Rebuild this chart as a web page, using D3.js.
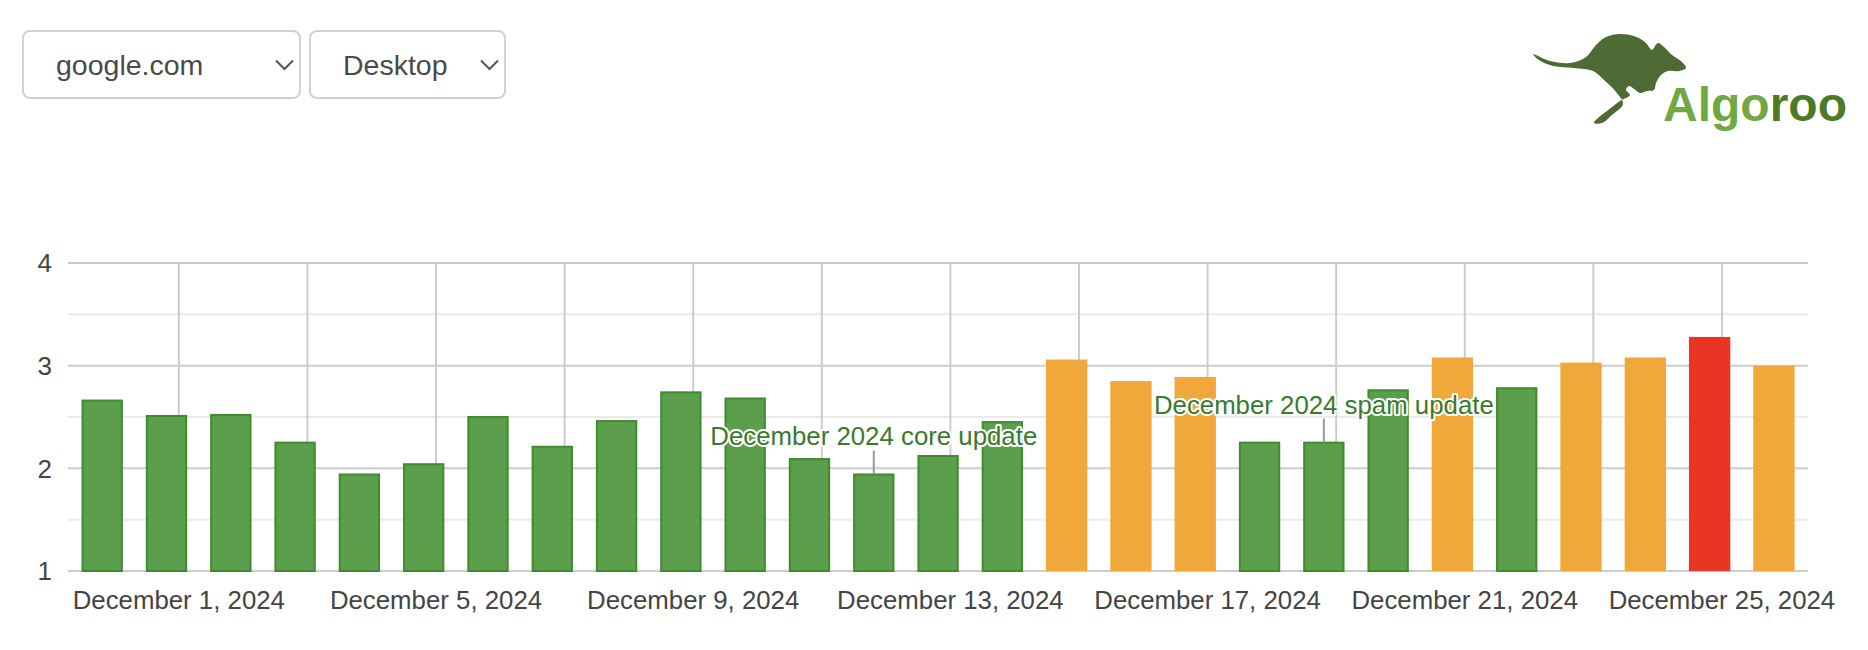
<!DOCTYPE html>
<html><head><meta charset="utf-8">
<script src="https://cdn.jsdelivr.net/npm/d3@7"></script>
<style>
html,body{margin:0;padding:0;background:#fff;}
svg{display:block;font-family:"Liberation Sans",Arial,Helvetica,sans-serif;}
</style></head><body>
<svg id="c" width="1868" height="650"></svg>
<script>
// ---- data ----
const dates = ["2024-11-30","2024-12-01","2024-12-02","2024-12-03","2024-12-04","2024-12-05","2024-12-06",
  "2024-12-07","2024-12-08","2024-12-09","2024-12-10","2024-12-11","2024-12-12","2024-12-13","2024-12-14",
  "2024-12-15","2024-12-16","2024-12-17","2024-12-18","2024-12-19","2024-12-20","2024-12-21","2024-12-22",
  "2024-12-23","2024-12-24","2024-12-25","2024-12-26"];
const values = [2.67,2.52,2.53,2.26,1.95,2.05,2.51,2.22,2.47,2.75,2.69,2.10,1.95,2.13,2.46,
  3.06,2.85,2.89,2.26,2.26,2.77,3.08,2.79,3.03,3.08,3.28,3.00];
const levels = ["low","low","low","low","low","low","low","low","low","low","low","low","low","low","low",
  "mid","mid","mid","low","low","low","mid","low","mid","mid","high","mid"];
const yTicks = [1,2,3,4];
const yMinorTicks = [1.5,2.5,3.5];
const annotationDates = ["2024-12-12","2024-12-19"];
const annotationTexts = ["December 2024 core update","December 2024 spam update"];
const selectLabels = ["google.com","Desktop"];

// ---- styles ----
const fillFor = {low:"#5b9e4c", mid:"#f0a83b", high:"#e93524"};
const strokeFor = {low:"#3f8b2d", mid:null, high:null};
const DAY = 864e5, shiftH = -4.6;
const parse = d3.timeParse("%Y-%m-%d");
const barT = s => new Date(+parse(s) + shiftH*3600e3);

const svg = d3.select("#c");
const pL = 68, pR = 1808, pT = 263, pB = 571;

const x = d3.scaleTime()
  .domain([new Date(+barT(dates[0]) - 0.532*DAY), new Date(+barT(dates[dates.length-1]) + 0.53*DAY)])
  .range([pL, pR]);
const y = d3.scaleLinear().domain([1,4]).range([pB, pT]);
const dayPx = x(new Date(+x.domain()[0] + DAY)) - pL;
const bw = dayPx * 0.643;

// minor horizontal gridlines
svg.append("g").selectAll("line").data(yMinorTicks).join("line")
  .attr("x1", pL).attr("x2", pR).attr("y1", d=>y(d)).attr("y2", d=>y(d))
  .attr("stroke", "#ebebeb").attr("stroke-width", 2);
// vertical gridlines
const xt = x.ticks(d3.timeDay.every(2));
svg.append("g").selectAll("line").data(xt).join("line")
  .attr("x1", d=>x(d)).attr("x2", d=>x(d)).attr("y1", pT).attr("y2", pB)
  .attr("stroke", "#cccccc").attr("stroke-width", 2);
// major horizontal gridlines
svg.append("g").selectAll("line").data(yTicks).join("line")
  .attr("x1", pL).attr("x2", pR).attr("y1", d=>y(d)).attr("y2", d=>y(d))
  .attr("stroke", "#cccccc").attr("stroke-width", 2);

// bars
const rows = dates.map((d,i)=>({d, v:values[i], lv:levels[i]}));
svg.append("g").selectAll("rect").data(rows).join("rect")
  .attr("x", r => x(barT(r.d)) - bw/2 + (strokeFor[r.lv]?1:0))
  .attr("width", r => bw - (strokeFor[r.lv]?2:0))
  .attr("y", r => y(r.v) + (strokeFor[r.lv]?1:0))
  .attr("height", r => y(1) - y(r.v) - (strokeFor[r.lv]?1:0))
  .attr("fill", r => fillFor[r.lv])
  .attr("stroke", r => strokeFor[r.lv] || "none")
  .attr("stroke-width", 2);

// y labels
svg.append("g").selectAll("text").data(yTicks).join("text")
  .attr("x", 52).attr("y", d=>y(d)).attr("dy", "0.36em")
  .attr("text-anchor", "end").attr("font-size", 26).attr("fill", "#444")
  .text(d=>d);

// x labels
const fmt = d3.timeFormat("%B %-d, %Y");
svg.append("g").selectAll("text").data(xt.filter(d => (d.getDate()-1) % 4 === 0)).join("text")
  .attr("x", d=>x(d)).attr("y", 609).attr("text-anchor", "middle")
  .attr("font-size", 25.8).attr("fill", "#444").text(d=>fmt(d));

// annotations
const ann = annotationDates.map((d,i)=>({d, t:annotationTexts[i], v:values[dates.indexOf(d)]}));
const ag = svg.append("g");
ag.selectAll("line").data(ann).join("line")
  .attr("x1", a=>x(barT(a.d))).attr("x2", a=>x(barT(a.d)))
  .attr("y1", a=>y(a.v)-23).attr("y2", a=>y(a.v))
  .attr("stroke", "#999").attr("stroke-width", 2);
ag.selectAll("text").data(ann).join("text")
  .attr("x", a=>x(barT(a.d))).attr("y", a=>y(a.v)-28)
  .attr("text-anchor", "middle").attr("font-size", 25.8)
  .attr("fill", "#3a7a2c").attr("stroke", "#fff").attr("stroke-width", 4)
  .attr("stroke-linejoin", "round").attr("paint-order", "stroke")
  .text(a=>a.t);

// select boxes
const boxes = [{x:23, w:277, tx:56, cx:276}, {x:310, w:195, tx:343, cx:481}];
const sg = svg.append("g").selectAll("g").data(selectLabels).join("g");
sg.append("rect").attr("x", (d,i)=>boxes[i].x).attr("y", 31).attr("width", (d,i)=>boxes[i].w).attr("height", 67)
  .attr("rx", 7).attr("fill", "#fff").attr("stroke", "#d0d0d0").attr("stroke-width", 2);
sg.append("text").attr("x", (d,i)=>boxes[i].tx).attr("y", 75).attr("font-size", 28.5)
  .attr("fill", "#4a4a4a").text(d=>d);
sg.append("path").attr("d", (d,i)=>`M${boxes[i].cx},60.5 L${boxes[i].cx+8.5},69 L${boxes[i].cx+17},60.5`)
  .attr("fill", "none").attr("stroke", "#555").attr("stroke-width", 2);

// logo
const roo = [[1533,54],[1550,61],[1570,63],[1586,57],[1596,45],[1606,37],[1620,34],[1634,36],[1645,42],
  [1652,50],[1655,46],[1658,43],[1663,46],[1672,55],[1682,62],[1686,68],[1679,71],[1668,71],[1661,75],
  [1656,83],[1654,90],[1647,91],[1640,93],[1634,89],[1629,86],[1626,90],[1630,95],[1620,101],
  [1607,111],[1598,118],[1594,123],[1602,123],[1612,115],[1623,104],[1616,92],[1604,80],[1593,71],
  [1574,68],[1553,66],[1539,60]];
svg.append("path").attr("d", d3.line().curve(d3.curveCatmullRomClosed.alpha(0.5))(roo))
  .attr("fill", "#4f6b35");
const lt = svg.append("text").attr("x", 1663).attr("y", 121).attr("font-size", 48).attr("font-weight", "bold");
lt.append("tspan").attr("fill", "#72a844").text("Algo");
lt.append("tspan").attr("fill", "#4c7b28").text("roo");
</script>
</body></html>
